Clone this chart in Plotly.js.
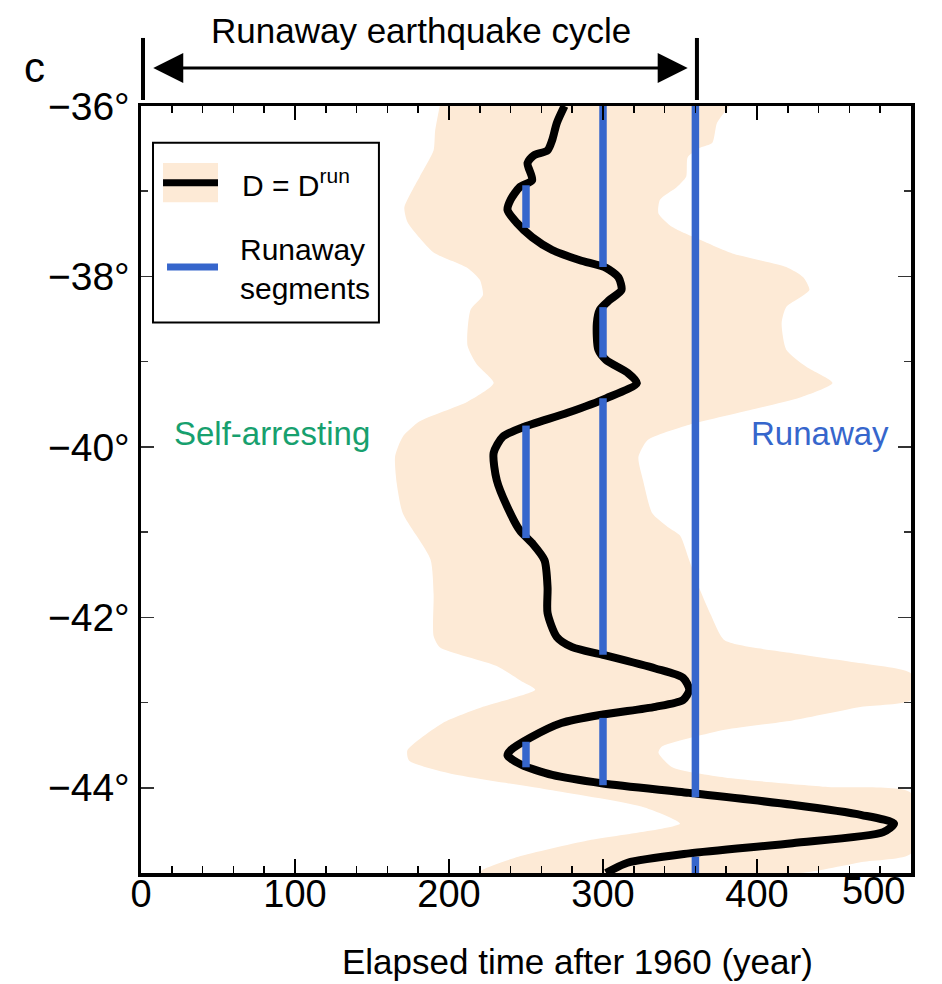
<!DOCTYPE html>
<html>
<head>
<meta charset="utf-8">
<script src="https://cdn.plot.ly/plotly-3.0.1.min.js"></script>
<style>html,body{margin:0;padding:0;background:#fff;}#chart{width:942px;height:984px;}</style>
</head>
<body>
<div id="chart"></div>
<script>
// ---- data ----
const curveLat = [-36.00,-36.20,-36.40,-36.52,-36.58,-36.67,-36.87,-36.95,-37.10,-37.22,-37.37,-37.54,-37.69,-37.81,-37.90,-38.01,-38.16,-38.28,-38.39,-38.55,-38.86,-38.98,-39.13,-39.25,-39.43,-39.60,-39.77,-39.88,-40.07,-40.39,-40.71,-40.98,-41.13,-41.33,-41.65,-41.95,-42.23,-42.35,-42.44,-42.60,-42.71,-42.85,-42.97,-43.05,-43.14,-43.24,-43.41,-43.56,-43.62,-43.73,-43.85,-43.95,-44.06,-44.20,-44.32,-44.42,-44.52,-44.65,-44.77,-44.88,-45.00];
const curveYear = [275,270,267,264,255,251,254,246,240,238,244,254,267,285,302,310,312,304,298,296,297,302,316,322,302,277,248,235,229,231,238,246,254,262,264,264,270,280,300,334,352,356,352,334,300,273,253,240,238,247,267,300,356,423,468,489,482,423,356,316,302];

const bandLeftLat = [-36.00,-36.29,-36.52,-36.83,-36.96,-37.19,-37.36,-37.55,-37.72,-37.90,-38.04,-38.22,-38.39,-38.81,-39.03,-39.25,-39.47,-39.70,-39.88,-40.11,-40.42,-40.78,-41.32,-41.73,-42.22,-42.35,-42.57,-42.76,-42.85,-43.05,-43.24,-43.56,-43.68,-43.83,-44.03,-44.23,-44.42,-44.62,-44.81,-44.96,-45.00];
const bandLeftYear = [194,191,190,181,177,171,173,181,190,212,220,222,214,212,218,229,212,181,170,165,166,170,188,190,190,194,231,248,256,222,196,173,174,200,267,327,350,290,245,222,220];

const bandRightLat = [-36.00,-36.20,-36.43,-36.49,-36.60,-36.83,-36.95,-37.10,-37.26,-37.42,-37.57,-37.73,-37.89,-38.01,-38.16,-38.36,-38.55,-38.86,-39.06,-39.25,-39.42,-39.57,-39.74,-39.92,-40.12,-40.39,-40.78,-40.94,-41.04,-41.33,-41.68,-41.97,-42.27,-42.42,-42.54,-42.66,-42.97,-43.05,-43.21,-43.32,-43.52,-43.59,-43.76,-43.88,-43.99,-44.06,-44.77,-44.87,-45.00];
const bandRightYear = [382,374,371,363,355,354,348,337,336,345,363,384,419,430,434,419,416,419,432,449,428,395,356,329,323,326,332,342,350,356,363,370,379,423,468,500,500,468,423,379,338,336,345,379,446,500,500,468,428];

const segYear   = [250, 250, 250, 300, 300, 300, 300, 360, 360];
const segTop    = [-36.93, -39.75, -43.46, -36.00, -38.36, -39.43, -43.18, -36.00, -44.81];
const segBottom = [-37.43, -41.07, -43.76, -37.89, -38.95, -42.44, -43.97, -44.11, -45.00];

const cycleStart = 0, cycleEnd = 360;

const xTickVals = [0, 100, 200, 300, 400, 500];
const xTickText = ['0', '100', '200', '300', '400', '500'];
const yTickVals = [-44, -42, -40, -38, -36];
const yTickText = ['\u221244\u00b0', '\u221242\u00b0', '\u221240\u00b0', '\u221238\u00b0', '\u221236\u00b0'];

// ---- styles ----
const FONT = 'Liberation Sans, Arial, sans-serif';
const PEACH = '#FDEAD6';
const BLUE = '#3666CC';
const GREEN = '#17A06E';

// band polygon
const bandX = bandLeftYear.concat(bandRightYear.slice().reverse());
const bandY = bandLeftLat.concat(bandRightLat.slice().reverse());

// runaway segments joined with gaps
const sx = [], sy = [];
for (let i = 0; i < segYear.length; i++) {
  sx.push(segYear[i], segYear[i], null);
  sy.push(segTop[i], segBottom[i], null);
}

const traces = [
  {x: bandX, y: bandY, type: 'scatter', mode: 'lines', fill: 'toself',
   fillcolor: PEACH, line: {width: 0, color: PEACH, shape: 'spline', smoothing: 0.6},
   hoverinfo: 'skip', showlegend: false},
  {x: curveYear, y: curveLat, type: 'scatter', mode: 'lines',
   line: {color: '#000', width: 8, shape: 'spline', smoothing: 0.7},
   showlegend: false},
  {x: sx, y: sy, type: 'scatter', mode: 'lines',
   line: {color: BLUE, width: 7.5}, connectgaps: false, showlegend: false}
];

// last x tick label is drawn pulled inside the figure, as in the reference
const lastIdx = xTickVals.length - 1;

const layout = {
  width: 942, height: 984,
  margin: {l: 141, r: 31, t: 106, b: 111},
  paper_bgcolor: '#fff', plot_bgcolor: '#fff',
  font: {family: FONT, color: '#000', size: 38},
  showlegend: false,
  xaxis: {
    range: [0, 500], tickmode: 'array', tickvals: xTickVals.slice(0, lastIdx), ticktext: xTickText.slice(0, lastIdx),
    ticks: 'inside', ticklen: 14, tickwidth: 1.5, tickcolor: '#000', ticklabelstandoff: -15,
    minor: {tickmode: 'linear', tick0: 0, dtick: 20, ticks: 'inside', ticklen: 7, tickwidth: 1.5, tickcolor: '#000'},
    showline: true, linewidth: 3.5, linecolor: '#000', mirror: 'ticks',
    showgrid: false, zeroline: false, tickfont: {family: FONT, size: 38}
  },
  yaxis: {
    range: [-45, -36], tickmode: 'array', tickvals: yTickVals, ticktext: yTickText,
    ticks: 'inside', ticklen: 13, tickwidth: 1.5, tickcolor: '#333',
    minor: {tickmode: 'linear', tick0: -45, dtick: 1, ticks: 'inside', ticklen: 7, tickwidth: 1.5, tickcolor: '#333'},
    showline: true, linewidth: 3.5, linecolor: '#000', mirror: 'ticks',
    showgrid: false, zeroline: false, tickfont: {family: FONT, size: 39}
  },
  shapes: [
    // legend box
    {type: 'rect', xref: 'x', yref: 'y', x0: 7.8, x1: 154.5, y0: -36.43, y1: -38.54,
     line: {color: '#000', width: 2}, fillcolor: '#fff', layer: 'above'},
    {type: 'rect', xref: 'x', yref: 'y', x0: 14.3, x1: 50, y0: -36.67, y1: -37.13,
     line: {width: 0}, fillcolor: PEACH, layer: 'above'},
    {type: 'line', xref: 'x', yref: 'y', x0: 14.3, x1: 50, y0: -36.90, y1: -36.90,
     line: {color: '#000', width: 7}, layer: 'above'},
    {type: 'line', xref: 'x', yref: 'y', x0: 16.9, x1: 50, y0: -37.89, y1: -37.89,
     line: {color: BLUE, width: 7}, layer: 'above'},
    // cycle bars above the plot
    {type: 'line', xref: 'paper', yref: 'paper', x0: (cycleStart + 1.3) / 500, x1: (cycleStart + 1.3) / 500,
     y0: 1.0078, y1: 1.0887, line: {color: '#000', width: 4}},
    {type: 'line', xref: 'paper', yref: 'paper', x0: (cycleEnd + 1) / 500, x1: (cycleEnd + 1) / 500,
     y0: 1.0078, y1: 1.0887, line: {color: '#000', width: 4}}
  ],
  annotations: [
    {xref: 'x', yref: 'paper', x: cycleEnd - 5, y: 1.0495, axref: 'x', ax: cycleStart + 7, ayref: 'pixel', ay: 0,
     text: '', showarrow: true, arrowside: 'end+start', arrowhead: 2, arrowsize: 2, arrowwidth: 3, arrowcolor: '#000'},
    {xref: 'x', yref: 'paper', x: 181.8, y: 1.099, text: 'Runaway earthquake cycle', showarrow: false,
     font: {family: FONT, size: 35, color: '#000'}, xanchor: 'center', yanchor: 'middle'},
    {xref: 'paper', yref: 'paper', x: -0.138, y: 1.05, text: 'c', showarrow: false,
     font: {family: FONT, size: 42, color: '#000'}, xanchor: 'center', yanchor: 'middle'},
    {xref: 'x', yref: 'y', x: 85, y: -39.84, text: 'Self-arresting', showarrow: false,
     font: {family: FONT, size: 33, color: GREEN}, xanchor: 'center', yanchor: 'middle'},
    {xref: 'x', yref: 'y', x: 441, y: -39.84, text: 'Runaway', showarrow: false,
     font: {family: FONT, size: 33, color: BLUE}, xanchor: 'center', yanchor: 'middle'},
    {xref: 'x', yref: 'y', x: 64.3, y: -36.90, text: 'D = D<sup>run</sup>', showarrow: false,
     font: {family: FONT, size: 30, color: '#000'}, xanchor: 'left', yanchor: 'middle'},
    {xref: 'x', yref: 'y', x: 63, y: -37.91, text: 'Runaway<br>segments', showarrow: false, align: 'left',
     font: {family: FONT, size: 30, color: '#000'}, xanchor: 'left', yanchor: 'middle'},
    {xref: 'x', yref: 'paper', x: xTickVals[lastIdx], y: -0.024, yanchor: 'middle', xanchor: 'right', xshift: -4,
     text: xTickText[lastIdx], showarrow: false, font: {family: FONT, size: 38, color: '#000'}},
    {xref: 'paper', yref: 'paper', x: 0.5675, y: -0.116, text: 'Elapsed time after 1960 (year)', showarrow: false,
     font: {family: FONT, size: 35, color: '#000'}, xanchor: 'center', yanchor: 'middle'}
  ]
};

Plotly.newPlot('chart', traces, layout, {staticPlot: true, displayModeBar: false});
</script>
</body>
</html>
